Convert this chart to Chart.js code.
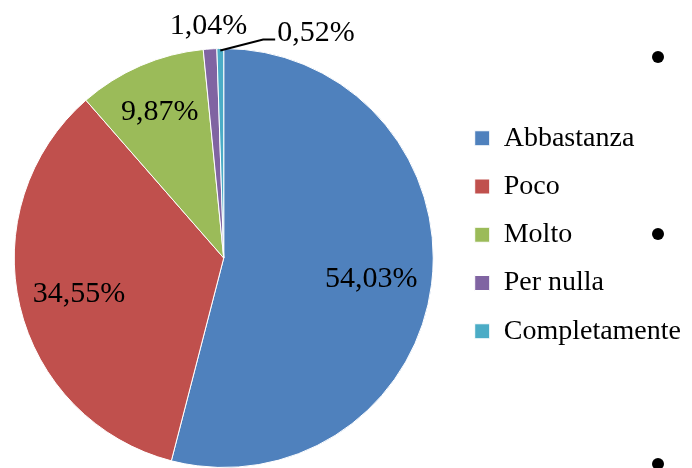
<!DOCTYPE html>
<html>
<head>
<meta charset="utf-8">
<script src="https://cdn.jsdelivr.net/npm/chart.js@4/dist/chart.umd.min.js"></script>
<style>
  body { margin: 0; background: #fff; }
  #wrap { position: relative; width: 692px; height: 468px; }
  .dot { position: absolute; width: 12px; height: 12px; border-radius: 50%; background: #000; }
</style>
</head>
<body>
<div id="wrap">
  <canvas id="pie_chart"></canvas>
  <div class="dot" style="left:652px;top:51px"></div>
  <div class="dot" style="left:652px;top:228px"></div>
  <div class="dot" style="left:652px;top:458px"></div>
</div>
<script>
// Data
const categories = ['Abbastanza', 'Poco', 'Molto', 'Per nulla', 'Completamente'];
const percentValues = [54.03, 34.55, 9.87, 1.04, 0.52];
const percentLabels = ['54,03%', '34,55%', '9,87%', '1,04%', '0,52%'];
const sliceColors = ['#4F81BD', '#C0504D', '#9BBB59', '#8064A2', '#4BACC6'];

const serif = '"Liberation Serif", "Times New Roman", serif';

// percent labels, small slices go outside
const pieLabels = {
  id: 'pieLabels',
  afterDatasetsDraw(chart) {
    const ctx = chart.ctx;
    const arcs = chart.getDatasetMeta(0).data;
    ctx.save();
    ctx.font = '30px ' + serif;
    ctx.fillStyle = '#000';
    ctx.textBaseline = 'middle';
    let lastRight = null;
    arcs.forEach((arc, i) => {
      const { x, y, startAngle, endAngle, outerRadius } = arc.getProps(['x', 'y', 'startAngle', 'endAngle', 'outerRadius'], true);
      const mid = (startAngle + endAngle) / 2;
      const text = percentLabels[i];
      const w = ctx.measureText(text).width;
      if (percentValues[i] >= 5) {
        const r = percentValues[i] > 20 ? outerRadius * 0.71 : outerRadius * 0.77;
        ctx.textAlign = 'center';
        ctx.fillText(text, x + Math.cos(mid) * r, y + Math.sin(mid) * r + 2);
        return;
      }
      const r = outerRadius * 1.12;
      let lx = x + Math.cos(mid) * r;
      let ly = y + Math.sin(mid) * r;
      if (lastRight !== null && lx - w / 2 < lastRight) {
        // move it right and draw a leader line
        const left = lastRight + 30;
        const ey = y + Math.sin(mid) * outerRadius;
        const ex = x + Math.cos(mid) * outerRadius;
        const ty = ey - 15;
        ctx.strokeStyle = '#000';
        ctx.lineWidth = 2;
        ctx.beginPath();
        ctx.moveTo(ex, ey + 2);
        ctx.lineTo(left - 14, ty + 6);
        ctx.lineTo(left - 2, ty + 6);
        ctx.stroke();
        ctx.textAlign = 'left';
        ctx.fillText(text, left, ty);
        lastRight = left + w;
      } else {
        ctx.textAlign = 'center';
        ctx.fillText(text, lx, ly + 2);
        lastRight = lx + w / 2;
      }
    });
    ctx.restore();
  }
};

// leave a gap between pie and legend
const legendGap = {
  id: 'legendGap',
  afterLayout(chart) {
    const lg = chart.legend;
    if (!lg) return;
    lg.left += 7;
    lg.right += 7;
  }
};

new Chart(document.getElementById('pie_chart'), {
  type: 'pie',
  data: {
    labels: categories,
    datasets: [{
      data: percentValues,
      backgroundColor: sliceColors,
      borderColor: '#fff',
      borderWidth: 1
    }]
  },
  options: {
    responsive: true,
    maintainAspectRatio: false,
    animation: false,
    layout: { padding: { top: 48, bottom: 0, left: 0, right: 8 } },
    plugins: {
      tooltip: { enabled: false },
      legend: {
        position: 'right',
        align: 'start',
        title: { display: true, text: ' ', font: { size: 10 }, padding: { top: 0, bottom: 44 } },
        labels: {
          boxWidth: 15,
          boxHeight: 15,
          padding: 20.25,
          color: '#000',
          font: { family: serif, size: 28 }
        }
      }
    }
  },
  plugins: [pieLabels, legendGap]
});
</script>
</body>
</html>
